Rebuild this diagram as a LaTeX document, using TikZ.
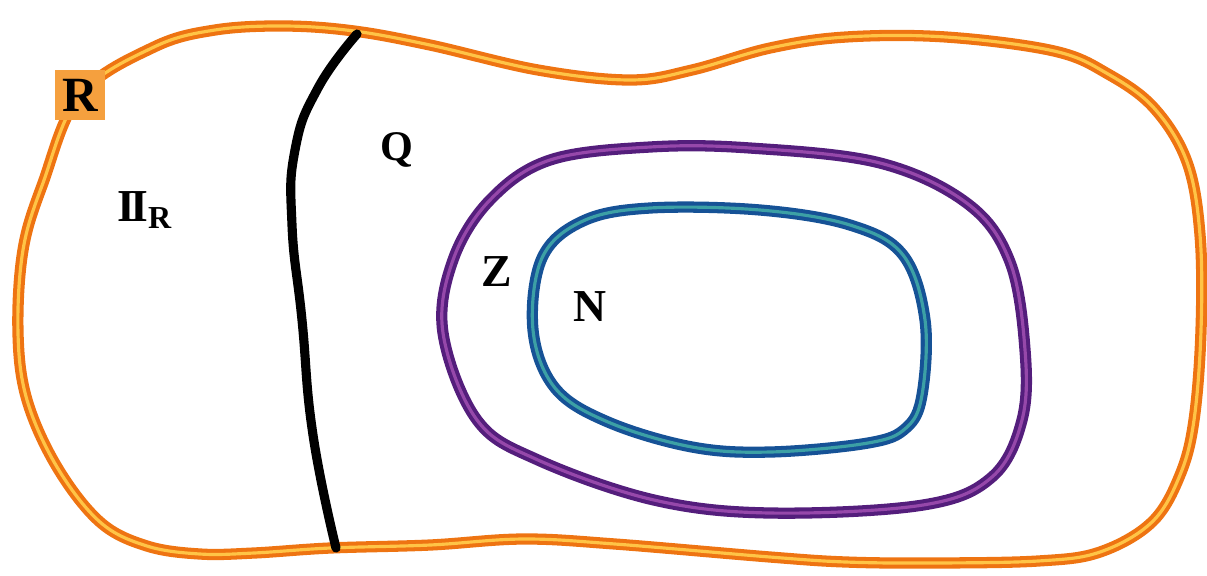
\documentclass[tikz,border=0pt]{standalone}
\usepackage{fontspec}
\setmainfont{Liberation Serif}
\definecolor{rline}{RGB}{238,116,18}
\definecolor{rcore}{RGB}{255,196,70}
\definecolor{rbox}{RGB}{245,160,62}
\definecolor{zline}{RGB}{84,30,124}
\definecolor{zcore}{RGB}{150,72,170}
\definecolor{nline}{RGB}{22,82,150}
\definecolor{ncore}{RGB}{60,160,165}
\tikzset{
  setline/.style={line width=1.15pt, double distance=0.9pt, line join=round},
  setname/.style={font=\fontsize{13}{15}\selectfont\bfseries, inner sep=1pt}
}

\begin{document}
\begin{tikzpicture}[x=0.01cm, y=-0.01cm]
\useasboundingbox (0,0) rectangle (1207,575);
% real numbers
\draw[setline, draw=rline, double=rcore] plot[smooth cycle, tension=0.6] coordinates {
  (80,95) (154,47) (215,30) (285,26) (354,31) (430,45) (538,70) (630,80) (692,70)
  (770,48) (846,37) (946,37) (1054,51) (1108,74) (1154,108) (1187,162) (1200,235)
  (1201,330) (1194,420) (1180,475) (1152,522) (1100,552) (1038,561) (930,563) (846,562)
  (770,557) (615,544) (523,539) (430,545) (330,548) (254,553) (200,554) (147,546)
  (100,522) (57,467) (27,400) (18,333) (23,250) (43,183)};
% rationals / irrationals
\coordinate (cuttop) at (357,34);
\coordinate (cutbot) at (336,548);
\draw[line width=2.6pt, line cap=round] plot[smooth, tension=0.8] coordinates {
  (cuttop) (318,88) (295,150) (292,225) (302,320) (313,435) (cutbot)};
% integers
\draw[setline, draw=zline, double=zcore] plot[smooth cycle, tension=0.6] coordinates {
  (443,333) (453,260) (490,200) (550,160) (650,147) (750,148) (880,163) (968,204)
  (1010,262) (1025,350) (1022,420) (992,477) (923,505) (770,513) (654,500) (538,460)
  (477,420)};
% naturals
\draw[setline, draw=nline, double=ncore] plot[smooth cycle, tension=0.6] coordinates {
  (533,330) (542,258) (583,221) (650,208) (760,210) (850,225) (903,255) (925,320)
  (922,395) (906,428) (868,443) (770,452) (692,447) (608,422) (555,388)};
% labels
\node[setname, fill=rbox, minimum size=0.5cm] (lblR) at (80,95) {\fontsize{14}{16}\selectfont R};
\node[setname] (lblI) at (145,210) {I\kern-1.3ptI$_{\mathbf{R}}$};
\node[setname, font=\fontsize{12}{14}\selectfont\bfseries] (lblQ) at (397,150) {Q};
\node[setname] (lblZ) at (497,272) {Z};
\node[setname] (lblN) at (590,307) {N};
\end{tikzpicture}
\end{document}
